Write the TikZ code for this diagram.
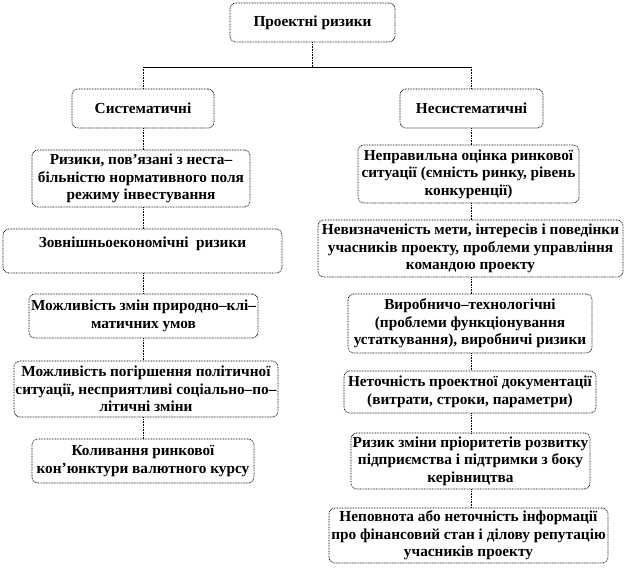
\documentclass[tikz,border=0pt]{standalone}
\usepackage{fontspec}
\setmainfont{Liberation Serif}[BoldFont={Liberation Serif Bold}]
\begin{document}
\begin{tikzpicture}[x=1pt,y=-1pt,
 box/.style={draw=black, line width=0.7pt, dash pattern=on 0.8pt off 0.8pt, rounded corners=6pt, align=center, font=\rmfamily\bfseries\fontsize{15.3}{17.5}\selectfont, inner sep=0.5pt},
 link/.style={line width=0.7pt, dash pattern=on 0.8pt off 0.8pt},
 bar/.style={line width=0.8pt}]
\useasboundingbox (0,0) rectangle (624,569);
\node[box, minimum width=165, minimum height=39] (top) at (312.5,22.5) {Проектні ризики};
\node[box, minimum width=142, minimum height=39] (sys) at (143,108.5) {Систематичні};
\node[box, minimum width=143, minimum height=39] (nsys) at (471.5,108.5) {Несистематичні};

\node[box, minimum width=218, minimum height=57] (L1) at (141,178.5) {Ризики, пов’язані з неста–\\більністю нормативного поля\\режиму інвестування};
\node[box, minimum width=279, minimum height=44] (L2) at (142.5,251) {Зовнішньоекономічні \ ризики\\\mbox{}};
\node[box, minimum width=229, minimum height=44] (L3) at (143.5,316) {Можливість змін природно–клі–\\матичних умов};
\node[box, minimum width=264, minimum height=56] (L4) at (146,389) {Можливість погіршення політичної\\ситуації, несприятливі соціально–по–\\літичні зміни};
\node[box, minimum width=222, minimum height=44] (L5) at (143,461) {Коливання ринкової\\кон’юнктури валютного курсу};

\node[box, minimum width=221, minimum height=58] (R1) at (468.5,174) {Неправильна оцінка ринкової\\ситуації (ємність ринку, рівень\\конкуренції)};
\node[box, minimum width=305, minimum height=57] (R2) at (470.5,248.5) {Невизначеність мети, інтересів і поведінки\\учасників проекту, проблеми управління\\командою проекту};
\node[box, minimum width=244, minimum height=59] (R3) at (470,323.5) {Виробничо–технологічні\\(проблеми функціонування\\устаткування), виробничі ризики};
\node[box, minimum width=252, minimum height=42] (R4) at (470,392) {Неточність проектної документації\\(витрати, строки, параметри)};
\node[box, minimum width=239, minimum height=56] (R5) at (470.5,461) {Ризик зміни пріоритетів розвитку\\підприємства і підтримки з боку\\керівництва};
\node[box, minimum width=279, minimum height=55] (R6) at (468.5,535.5) {Неповнота або неточність інформації\\про фінансовий стан і ділову репутацію\\учасників проекту};

\coordinate (jt) at (312.5,67);
\coordinate (jl) at (143,67);
\coordinate (jr) at (471.5,67);
\draw[link] (top.south) -- (jt);
\draw[bar] (jl) -- (jr);
\draw[link] (jl) -- (sys.north);
\draw[link] (jr) -- (nsys.north);

\draw[link] (sys.south) -- (sys.south |- L1.north);
\draw[link] (sys.south |- L1.south) -- (sys.south |- L2.north);
\draw[link] (sys.south |- L2.south) -- (sys.south |- L3.north);
\draw[link] (sys.south |- L3.south) -- (sys.south |- L4.north);
\draw[link] (sys.south |- L4.south) -- (sys.south |- L5.north);

\draw[link] (nsys.south) -- (nsys.south |- R1.north);
\draw[link] (nsys.south |- R1.south) -- (nsys.south |- R2.north);
\draw[link] (nsys.south |- R2.south) -- (nsys.south |- R3.north);
\draw[link] (nsys.south |- R3.south) -- (nsys.south |- R4.north);
\draw[link] (nsys.south |- R4.south) -- (nsys.south |- R5.north);
\draw[link] (nsys.south |- R5.south) -- (nsys.south |- R6.north);
\end{tikzpicture}
\end{document}
